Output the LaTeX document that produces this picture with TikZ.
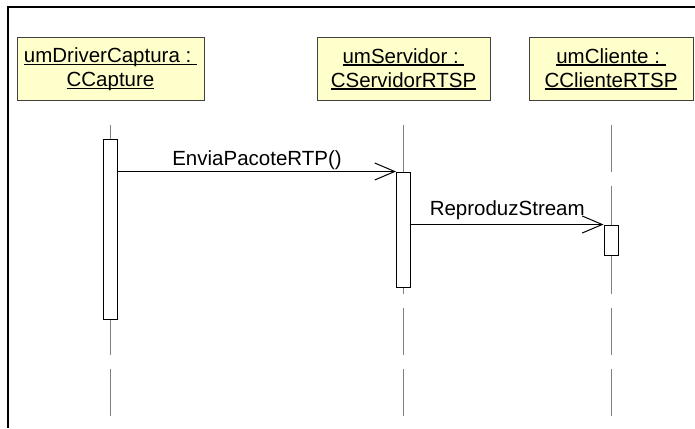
\documentclass[tikz,border=0pt]{standalone}
\usepackage{fontspec}
\setmainfont{Liberation Sans}
\usetikzlibrary{arrows.meta}

\definecolor{objfill}{RGB}{255,255,204}
\newcommand{\uname}[1]{\setbox0=\hbox{#1}\rlap{\rule[-2.6pt]{\wd0}{1.3pt}}\box0}

\begin{document}
\begin{tikzpicture}[
  x=1pt, y=-1pt,
  obj/.style={rectangle, draw=black!75, fill=objfill, line width=1pt, minimum height=62pt,
              align=center, inner sep=0pt, font=\fontsize{20.5}{24}\selectfont},
  act/.style={rectangle, draw, fill=white, line width=1pt, minimum width=14pt, inner sep=0pt},
  lifeline/.style={draw=black!50, line width=1pt, dash pattern=on 47pt off 14pt},
  msg/.style={-{Straight Barb[length=20pt, width=17pt]}, line width=1pt},
  lbl/.style={font=\fontsize{20.5}{24}\selectfont, anchor=base, inner sep=0pt}
]
\useasboundingbox (0,0) rectangle (695,428);
\draw[line width=2pt] (8,428) -- (8,7) -- (695,7);

\node[obj, minimum width=187pt] (driver) at (110.5,69) {\uname{umDriverCaptura :\ }\\ \uname{CCapture}};
\node[obj, minimum width=173pt] (servidor) at (403.5,69) {\uname{umServidor :\ }\\ \uname{CServidorRTSP}};
\node[obj, minimum width=164pt] (cliente) at (611,69) {\uname{umCliente :\ }\\ \uname{CClienteRTSP}};

\foreach \obj in {driver, servidor, cliente}
  \draw[lifeline] (\obj.south |- 0,124.5) -- (\obj.south |- 0,416);

\node[act, minimum height=180pt] (act1) at (driver.south |- 0,229) {};
\node[act, minimum height=115pt] (act2) at (servidor.south |- 0,229.5) {};
\node[act, minimum height=30pt] (act3) at (cliente.south |- 0,240) {};

\draw[msg] (act1.east |- act2.north) -- node[lbl, midway, yshift=6pt] {EnviaPacoteRTP()} (act2.north west);
\draw[msg] (act2.east |- act3.north) -- node[lbl, midway, yshift=9pt] {ReproduzStream} (act3.north west);
\end{tikzpicture}
\end{document}
